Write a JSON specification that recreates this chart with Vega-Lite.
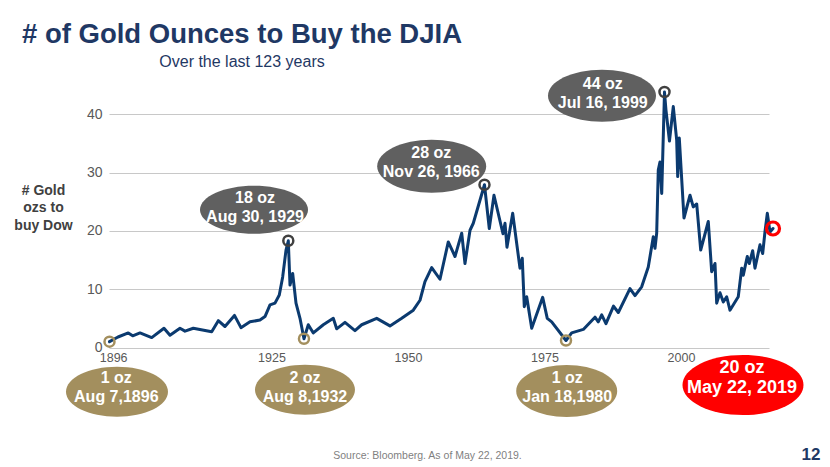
{
  "$schema": "https://vega.github.io/schema/vega-lite/v6.json",
  "width": 660,
  "height": 262.5,
  "autosize": {"type": "none"},
  "padding": {"left": 109, "top": 85, "right": 61, "bottom": 119.5},
  "background": "white",
  "config": {"view": {"stroke": null}, "font": "Liberation Sans"},
  "title": {
    "text": "# of Gold Ounces to Buy the DJIA",
    "subtitle": "Over the last 123 years",
    "anchor": "start",
    "align": "center",
    "frame": "group",
    "dx": 133,
    "fontSize": 27.5,
    "fontWeight": "bold",
    "font": "Liberation Sans",
    "color": "#1F3864",
    "subtitleFont": "Liberation Sans",
    "subtitleFontSize": 16,
    "subtitleColor": "#1F3864",
    "subtitlePadding": 5,
    "offset": 0
  },
  "datasets": {
    "series": [
      {"year": 1895.33, "oz": 1.0}, {"year": 1896.89, "oz": 1.8}, {"year": 1898.77, "oz": 2.5}, {"year": 1899.58, "oz": 2.0},
      {"year": 1900.92, "oz": 2.5}, {"year": 1903.06, "oz": 1.7}, {"year": 1905.31, "oz": 3.3}, {"year": 1906.41, "oz": 2.1},
      {"year": 1908.24, "oz": 3.3}, {"year": 1909.16, "oz": 2.8}, {"year": 1910.68, "oz": 3.3}, {"year": 1914.05, "oz": 2.7},
      {"year": 1915.26, "oz": 4.6}, {"year": 1916.48, "oz": 3.6}, {"year": 1918.22, "oz": 5.5}, {"year": 1919.41, "oz": 3.4},
      {"year": 1921.06, "oz": 4.4}, {"year": 1922.89, "oz": 4.7}, {"year": 1923.81, "oz": 5.3}, {"year": 1924.73, "oz": 7.3},
      {"year": 1925.64, "oz": 7.6}, {"year": 1926.43, "oz": 9.0}, {"year": 1927.05, "oz": 12.1}, {"year": 1927.66, "oz": 16.7},
      {"year": 1928.08, "oz": 18.3}, {"year": 1928.39, "oz": 10.7}, {"year": 1928.88, "oz": 12.7}, {"year": 1929.12, "oz": 10.7},
      {"year": 1929.49, "oz": 7.6}, {"year": 1930.22, "oz": 5.0}, {"year": 1930.95, "oz": 1.5}, {"year": 1931.74, "oz": 3.9},
      {"year": 1932.66, "oz": 2.5}, {"year": 1934.49, "oz": 3.9}, {"year": 1936.32, "oz": 5.0}, {"year": 1936.94, "oz": 3.2},
      {"year": 1938.46, "oz": 4.3}, {"year": 1940.29, "oz": 2.9}, {"year": 1941.52, "oz": 3.9}, {"year": 1944.27, "oz": 5.0},
      {"year": 1946.70, "oz": 3.7}, {"year": 1948.85, "oz": 5.0}, {"year": 1950.97, "oz": 6.4}, {"year": 1952.20, "oz": 8.1},
      {"year": 1953.11, "oz": 11.3}, {"year": 1954.34, "oz": 13.7}, {"year": 1955.86, "oz": 11.7}, {"year": 1957.38, "oz": 18.1},
      {"year": 1958.61, "oz": 15.6}, {"year": 1959.84, "oz": 19.6}, {"year": 1960.44, "oz": 14.4}, {"year": 1961.36, "oz": 20.1},
      {"year": 1961.96, "oz": 21.3}, {"year": 1964.01, "oz": 27.9}, {"year": 1964.89, "oz": 20.4}, {"year": 1965.75, "oz": 26.1},
      {"year": 1967.40, "oz": 19.5}, {"year": 1967.77, "oz": 21.3}, {"year": 1968.13, "oz": 17.2}, {"year": 1969.18, "oz": 23.0},
      {"year": 1970.51, "oz": 13.6}, {"year": 1970.93, "oz": 15.3}, {"year": 1971.30, "oz": 7.0}, {"year": 1971.74, "oz": 8.7},
      {"year": 1972.66, "oz": 3.3}, {"year": 1974.67, "oz": 8.6}, {"year": 1975.51, "oz": 5.0}, {"year": 1976.32, "oz": 4.4},
      {"year": 1978.94, "oz": 1.2}, {"year": 1979.98, "oz": 2.5}, {"year": 1982.11, "oz": 3.1}, {"year": 1984.25, "oz": 5.2},
      {"year": 1984.85, "oz": 4.4}, {"year": 1985.48, "oz": 5.6}, {"year": 1986.26, "oz": 4.1}, {"year": 1987.64, "oz": 7.1},
      {"year": 1988.52, "oz": 6.0}, {"year": 1990.66, "oz": 10.1}, {"year": 1991.58, "oz": 8.9}, {"year": 1992.80, "oz": 10.4},
      {"year": 1994.01, "oz": 13.8}, {"year": 1994.93, "oz": 19.0}, {"year": 1995.24, "oz": 17.0}, {"year": 1995.55, "oz": 19.6},
      {"year": 1995.84, "oz": 30.4}, {"year": 1996.15, "oz": 31.8}, {"year": 1996.47, "oz": 26.4}, {"year": 1996.98, "oz": 43.8},
      {"year": 1997.25, "oz": 40.7}, {"year": 1997.89, "oz": 35.4}, {"year": 1998.59, "oz": 41.3}, {"year": 1999.21, "oz": 35.6},
      {"year": 1999.40, "oz": 29.3}, {"year": 1999.69, "oz": 35.9}, {"year": 2000.55, "oz": 22.2}, {"year": 2001.65, "oz": 26.1},
      {"year": 2002.25, "oz": 24.1}, {"year": 2002.88, "oz": 24.6}, {"year": 2003.61, "oz": 16.7}, {"year": 2005.00, "oz": 21.6},
      {"year": 2005.62, "oz": 13.0}, {"year": 2006.23, "oz": 14.4}, {"year": 2006.54, "oz": 7.6}, {"year": 2007.14, "oz": 9.4},
      {"year": 2007.75, "oz": 7.8}, {"year": 2008.37, "oz": 8.7}, {"year": 2008.97, "oz": 6.4}, {"year": 2010.49, "oz": 8.7},
      {"year": 2011.12, "oz": 13.6}, {"year": 2011.41, "oz": 12.4}, {"year": 2012.14, "oz": 15.6}, {"year": 2012.51, "oz": 14.4},
      {"year": 2013.13, "oz": 16.6}, {"year": 2013.55, "oz": 13.6}, {"year": 2014.47, "oz": 17.6}, {"year": 2014.96, "oz": 16.1},
      {"year": 2015.38, "oz": 19.8}, {"year": 2015.81, "oz": 23.0}, {"year": 2016.30, "oz": 19.8}, {"year": 2016.85, "oz": 20.4}
    ],
    "callouts": [
      {"date": "1896-08-07", "year": 1895.33, "oz": 1.0, "kind": "low", "label": "1 oz\nAug 7,1896"},
      {"date": "1929-08-30", "year": 1928.08, "oz": 18.3, "kind": "high", "label": "18 oz\nAug 30, 1929"},
      {"date": "1932-08-08", "year": 1930.95, "oz": 1.5, "kind": "low", "label": "2 oz\nAug 8,1932"},
      {"date": "1966-11-26", "year": 1964.01, "oz": 27.9, "kind": "high", "label": "28 oz\nNov 26, 1966"},
      {"date": "1980-01-18", "year": 1978.94, "oz": 1.2, "kind": "low", "label": "1 oz\nJan 18,1980"},
      {"date": "1999-07-16", "year": 1996.98, "oz": 43.8, "kind": "high", "label": "44 oz\nJul 16, 1999"},
      {"date": "2019-05-22", "year": 2016.85, "oz": 20.4, "kind": "now", "label": "20 oz\nMay 22, 2019"}
    ],
    "notes": [
      {"year": 2023.8, "oz": -18.4, "note": "12"}
    ]
  },
  "encoding": {
    "x": {
      "field": "year",
      "type": "quantitative",
      "scale": {"domain": [1895.24, 2016.12], "nice": false, "zero": false},
      "axis": {
        "values": [1896, 1925, 1950, 1975, 2000],
        "format": "d",
        "title": "Source: Bloomberg. As of May 22, 2019.",
        "titleFont": "Liberation Sans",
        "titleFontSize": 10.5,
        "titleFontWeight": "normal",
        "titleColor": "#7F7F7F",
        "titleAlign": "center",
        "titleBaseline": "middle",
        "titleAnchor": "start",
        "titleX": 318,
        "titleY": 107.5,
        "grid": false,
        "domain": false,
        "ticks": false,
        "labelFontSize": 12.5,
        "labelColor": "#595959",
        "labelPadding": 4,
        "labelFont": "Liberation Sans"
      }
    },
    "y": {
      "field": "oz",
      "type": "quantitative",
      "scale": {"domain": [0, 45], "nice": false},
      "axis": {
        "values": [0, 10, 20, 30, 40],
        "grid": true,
        "gridColor": "#C8C8C8",
        "gridWidth": 1,
        "domain": false,
        "ticks": false,
        "labelFontSize": 14,
        "labelColor": "#595959",
        "labelPadding": 7,
        "labelFont": "Liberation Sans",
        "title": ["# Gold", "ozs to", "buy Dow"],
        "titleAngle": 0,
        "titleFont": "Liberation Sans",
        "titleFontSize": 14,
        "titleFontWeight": "bold",
        "titleColor": "#404040",
        "titleAlign": "center",
        "titleBaseline": "middle",
        "titleX": -66,
        "titleY": 105,
        "titleLineHeight": 17.5
      }
    }
  },
  "layer": [
    {
      "data": {"name": "series"},
      "mark": {"type": "line", "color": "#0B3A6F", "strokeWidth": 3, "strokeJoin": "round", "strokeCap": "round"}
    },
    {
      "data": {"name": "callouts"},
      "mark": {"type": "point", "filled": true, "opacity": 1, "size": 4, "strokeWidth": 0},
      "encoding": {
        "shape": {
          "field": "date",
          "type": "nominal",
          "scale": {
            "domain": ["1896-08-07", "1929-08-30", "1932-08-08", "1966-11-26", "1980-01-18", "1999-07-16", "2019-05-22"],
            "range": [
              "M-43.5,50 C-43.5,36.2 -20.7,25 7.5,25 C35.7,25 58.5,36.2 58.5,50 C58.5,63.8 35.7,75 7.5,75 C-20.7,75 -43.5,63.8 -43.5,50 Z",
              "M-88.3,-31 C-88.3,-44.3 -64.1,-55 -34.3,-55 C-4.5,-55 19.7,-44.3 19.7,-31 C19.7,-17.7 -4.5,-7 -34.3,-7 C-64.1,-7 -88.3,-17.7 -88.3,-31 Z",
              "M-49,51 C-49,37.2 -26.6,26 1,26 C28.6,26 51,37.2 51,51 C51,64.8 28.6,76 1,76 C-26.6,76 -49,64.8 -49,51 Z",
              "M-107.3,-18.5 C-107.3,-33.1 -82.9,-45 -52.8,-45 C-22.7,-45 1.7,-33.1 1.7,-18.5 C1.7,-3.9 -22.7,8 -52.8,8 C-82.9,8 -107.3,-3.9 -107.3,-18.5 Z",
              "M-49.8,50.5 C-49.8,36.1 -27.2,24.5 0.7,24.5 C28.6,24.5 51.2,36.1 51.2,50.5 C51.2,64.9 28.6,76.5 0.7,76.5 C-27.2,76.5 -49.8,64.9 -49.8,50.5 Z",
              "M-116.5,3.8 C-116.5,-10.6 -92.3,-22.2 -62.5,-22.2 C-32.7,-22.2 -8.5,-10.6 -8.5,3.8 C-8.5,18.2 -32.7,29.8 -62.5,29.8 C-92.3,29.8 -116.5,18.2 -116.5,3.8 Z",
              "M-90.5,156.5 C-90.5,139.9 -63.4,126.5 -30,126.5 C3.4,126.5 30.5,139.9 30.5,156.5 C30.5,173.1 3.4,186.5 -30,186.5 C-63.4,186.5 -90.5,173.1 -90.5,156.5 Z"
            ]
          },
          "legend": null
        },
        "color": {
          "condition": [
            {"test": "datum.kind === 'now'", "value": "#FF0000"},
            {"test": "datum.kind === 'low'", "value": "#A38F5E"}
          ],
          "value": "#606060"
        }
      }
    },
    {
      "data": {"name": "callouts"},
      "mark": {"type": "point", "shape": "circle", "filled": false, "opacity": 1},
      "encoding": {
        "color": {
          "condition": [
            {"test": "datum.kind === 'now'", "value": "#FF0000"},
            {"test": "datum.kind === 'low'", "value": "#A38F5E"}
          ],
          "value": "#404040"
        },
        "size": {"condition": {"test": "datum.kind === 'now'", "value": 170}, "value": 100},
        "strokeWidth": {"condition": {"test": "datum.kind === 'now'", "value": 3.2}, "value": 2.5}
      }
    },
    {
      "data": {"name": "callouts"},
      "transform": [{"filter": "datum.date === '1896-08-07'"}],
      "mark": {"type": "text", "lineBreak": "\n", "dx": 6.8, "dy": 36.2, "fontSize": 16, "fontWeight": "bold", "font": "Liberation Sans", "color": "white", "lineHeight": 19, "baseline": "middle", "align": "center"},
      "encoding": {"text": {"field": "label"}}
    },
    {
      "data": {"name": "callouts"},
      "transform": [{"filter": "datum.date === '1929-08-30'"}],
      "mark": {"type": "text", "lineBreak": "\n", "dx": -33.3, "dy": -43, "fontSize": 16, "fontWeight": "bold", "font": "Liberation Sans", "color": "white", "lineHeight": 19, "baseline": "middle", "align": "center"},
      "encoding": {"text": {"field": "label"}}
    },
    {
      "data": {"name": "callouts"},
      "transform": [{"filter": "datum.date === '1932-08-08'"}],
      "mark": {"type": "text", "lineBreak": "\n", "dx": 1, "dy": 39.5, "fontSize": 16, "fontWeight": "bold", "font": "Liberation Sans", "color": "white", "lineHeight": 19, "baseline": "middle", "align": "center"},
      "encoding": {"text": {"field": "label"}}
    },
    {
      "data": {"name": "callouts"},
      "transform": [{"filter": "datum.date === '1966-11-26'"}],
      "mark": {"type": "text", "lineBreak": "\n", "dx": -53.2, "dy": -31.8, "fontSize": 16, "fontWeight": "bold", "font": "Liberation Sans", "color": "white", "lineHeight": 19, "baseline": "middle", "align": "center"},
      "encoding": {"text": {"field": "label"}}
    },
    {
      "data": {"name": "callouts"},
      "transform": [{"filter": "datum.date === '1980-01-18'"}],
      "mark": {"type": "text", "lineBreak": "\n", "dx": 1.2, "dy": 37.8, "fontSize": 16, "fontWeight": "bold", "font": "Liberation Sans", "color": "white", "lineHeight": 19, "baseline": "middle", "align": "center"},
      "encoding": {"text": {"field": "label"}}
    },
    {
      "data": {"name": "callouts"},
      "transform": [{"filter": "datum.date === '1999-07-16'"}],
      "mark": {"type": "text", "lineBreak": "\n", "dx": -61.7, "dy": -8.4, "fontSize": 16, "fontWeight": "bold", "font": "Liberation Sans", "color": "white", "lineHeight": 19, "baseline": "middle", "align": "center"},
      "encoding": {"text": {"field": "label"}}
    },
    {
      "data": {"name": "callouts"},
      "transform": [{"filter": "datum.date === '2019-05-22'"}],
      "mark": {"type": "text", "lineBreak": "\n", "dx": -31, "dy": 139.8, "fontSize": 18, "fontWeight": "bold", "font": "Liberation Sans", "color": "white", "lineHeight": 20, "baseline": "middle", "align": "center"},
      "encoding": {"text": {"field": "label"}}
    },
    {
      "data": {"name": "notes"},
      "mark": {"type": "text", "fontSize": 17, "fontWeight": "bold", "color": "#1F3864", "font": "Liberation Sans", "align": "center", "baseline": "middle"},
      "encoding": {
        "text": {"field": "note"}
      }
    }
  ]
}
